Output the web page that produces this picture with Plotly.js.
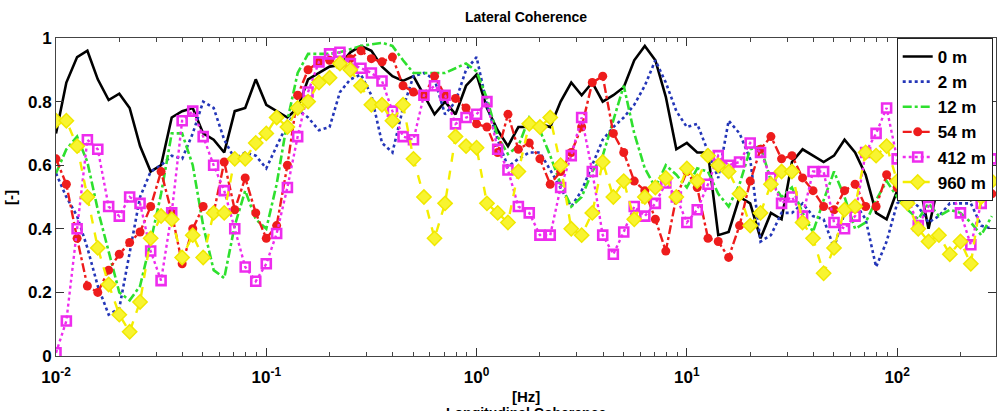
<!DOCTYPE html>
<html><head><meta charset="utf-8">
<script src="https://cdn.plot.ly/plotly-3.0.1.min.js"></script>
<style>html,body{margin:0;padding:0;background:#fff}#chart{width:1000px;height:411px}</style>
</head><body><div id="chart"></div>
<script>
var freq = [0.01,0.0112,0.0126,0.0141,0.0158,0.0178,0.02,0.0224,0.0251,0.0282,0.0316,0.0355,0.0398,0.0447,0.0501,0.0562,0.0631,0.0708,0.0794,0.0891,
0.1,0.112,0.126,0.141,0.158,0.178,0.2,0.224,0.251,0.282,0.316,0.355,0.398,0.447,0.501,0.562,0.631,0.708,0.794,0.891,
1,1.12,1.26,1.41,1.58,1.78,2,2.24,2.51,2.82,3.16,3.55,3.98,4.47,5.01,5.62,6.31,7.08,7.94,8.91,
10,11.2,12.6,14.1,15.8,17.8,20,22.4,25.1,28.2,31.6,35.5,39.8,44.7,50.1,56.2,63.1,70.8,79.4,89.1,
100,112,126,141,158,178,200,224,251,282];

var seriesNames = ["0 m","2 m","12 m","54 m","412 m","960 m"];

var coh_0m = [0.70,0.86,0.94,0.96,0.87,0.805,0.825,0.78,0.66,0.58,0.60,0.75,0.77,0.78,0.70,0.68,0.64,0.77,0.78,0.87,
0.79,0.77,0.75,0.78,0.87,0.89,0.91,0.915,0.955,0.975,0.96,0.91,0.88,0.865,0.88,0.82,0.76,0.80,0.76,0.85,
0.885,0.78,0.71,0.66,0.72,0.72,0.73,0.72,0.80,0.86,0.82,0.86,0.80,0.82,0.845,0.93,0.975,0.93,0.815,0.65,
0.67,0.64,0.64,0.38,0.39,0.50,0.48,0.37,0.45,0.43,0.61,0.65,0.63,0.61,0.63,0.68,0.64,0.57,0.45,0.43,
0.52,0.56,0.56,0.40,0.55,0.52,0.55,0.49,0.50,0.50];

var coh_2m = [0.575,0.50,0.44,0.34,0.22,0.13,0.15,0.33,0.50,0.58,0.60,0.63,0.62,0.70,0.80,0.78,0.68,0.62,0.64,0.63,
0.59,0.66,0.73,0.775,0.75,0.71,0.72,0.83,0.87,0.885,0.82,0.67,0.64,0.78,0.88,0.89,0.87,0.76,0.80,0.90,
0.94,0.79,0.68,0.595,0.62,0.64,0.64,0.585,0.53,0.47,0.52,0.60,0.68,0.72,0.75,0.79,0.85,0.93,0.86,0.77,
0.72,0.73,0.64,0.56,0.74,0.70,0.62,0.36,0.38,0.45,0.45,0.48,0.44,0.43,0.34,0.45,0.48,0.43,0.28,0.36,
0.48,0.50,0.47,0.42,0.44,0.48,0.48,0.48,0.41,0.40];

var coh_12m = [0.575,0.65,0.69,0.61,0.46,0.33,0.20,0.175,0.22,0.36,0.51,0.70,0.70,0.60,0.41,0.27,0.245,0.41,0.52,0.43,
0.40,0.54,0.74,0.89,0.95,0.95,0.95,0.955,0.965,0.975,0.98,0.985,0.975,0.93,0.89,0.89,0.89,0.89,0.905,0.92,
0.895,0.81,0.69,0.635,0.66,0.75,0.71,0.63,0.54,0.47,0.50,0.58,0.63,0.74,0.85,0.70,0.59,0.53,0.60,0.57,
0.53,0.59,0.58,0.51,0.47,0.54,0.65,0.66,0.55,0.50,0.53,0.45,0.39,0.49,0.58,0.50,0.40,0.42,0.49,0.55,
0.50,0.46,0.43,0.48,0.44,0.46,0.45,0.42,0.38,0.44];

var coh_54m = [0.62,0.54,0.37,0.22,0.20,0.27,0.32,0.357,0.39,0.47,0.58,0.45,0.29,0.40,0.47,0.45,0.61,0.46,0.56,0.45,
0.37,0.41,0.60,0.82,0.90,0.925,0.93,0.915,0.935,0.96,0.935,0.925,0.94,0.85,0.83,0.82,0.88,0.82,0.81,0.78,
0.73,0.72,0.64,0.76,0.65,0.67,0.62,0.54,0.58,0.64,0.72,0.86,0.88,0.70,0.64,0.55,0.52,0.43,0.33,0.50,
0.58,0.53,0.37,0.36,0.31,0.41,0.55,0.65,0.69,0.62,0.63,0.56,0.52,0.47,0.46,0.52,0.54,0.47,0.47,0.57,
0.53,0.50,0.52,0.52,0.55,0.55,0.53,0.51,0.53,0.51];

var coh_412m = [0.01,0.11,0.40,0.68,0.65,0.47,0.44,0.50,0.48,0.33,0.237,0.45,0.74,0.77,0.69,0.60,0.52,0.40,0.28,0.235,
0.29,0.385,0.53,0.69,0.83,0.925,0.95,0.955,0.92,0.905,0.89,0.865,0.77,0.69,0.68,0.82,0.85,0.82,0.73,0.75,
0.76,0.80,0.65,0.585,0.47,0.45,0.38,0.38,0.53,0.63,0.75,0.58,0.38,0.32,0.39,0.47,0.44,0.48,0.544,0.50,
0.42,0.46,0.54,0.63,0.60,0.61,0.67,0.64,0.56,0.48,0.50,0.44,0.58,0.58,0.42,0.40,0.44,0.64,0.70,0.78,
0.62,0.50,0.41,0.47,0.51,0.52,0.45,0.35,0.48,0.62];

var coh_960m = [0.74,0.74,0.66,0.50,0.34,0.225,0.13,0.076,0.17,0.37,0.44,0.43,0.31,0.38,0.31,0.45,0.45,0.62,0.62,0.67,
0.70,0.75,0.72,0.78,0.80,0.86,0.875,0.92,0.90,0.85,0.79,0.79,0.74,0.79,0.62,0.50,0.37,0.48,0.69,0.66,
0.655,0.48,0.45,0.42,0.58,0.73,0.72,0.75,0.60,0.40,0.38,0.45,0.61,0.50,0.55,0.43,0.50,0.53,0.56,0.50,
0.59,0.55,0.63,0.60,0.58,0.51,0.41,0.45,0.54,0.58,0.58,0.42,0.37,0.26,0.34,0.46,0.47,0.64,0.63,0.66,
0.55,0.48,0.40,0.36,0.38,0.32,0.36,0.29,0.50,0.55];

var xTickVals = [0.01,0.1,1,10,100];
var xTickText = ["10<sup>-2</sup>","10<sup>-1</sup>","10<sup>0</sup>","10<sup>1</sup>","10<sup>2</sup>"];
var yTickVals = [0,0.2,0.4,0.6,0.8,1];
var yTickText = ["0","0.2","0.4","0.6","0.8","1"];

var FONT = "Liberation Sans, Arial, sans-serif";
var ys = [coh_0m,coh_2m,coh_12m,coh_54m,coh_412m,coh_960m];
var styles = [
  {mode:"lines", line:{color:"#000000", width:2.6, dash:"solid"}},
  {mode:"lines", line:{color:"#2436b8", width:2.6, dash:"dot"}},
  {mode:"lines", line:{color:"#2ee02e", width:2.6, dash:"dashdot"}},
  {mode:"lines+markers", line:{color:"#ee1c1c", width:2.4, dash:"dashdot"}, marker:{symbol:"circle", size:9, color:"#ee1c1c"}},
  {mode:"lines+markers", line:{color:"#ee2cee", width:2.4, dash:"dot"}, marker:{symbol:"square-open", size:9, color:"#ee2cee", line:{width:2.6, color:"#ee2cee"}}},
  {mode:"lines+markers", line:{color:"#f4ee00", width:2.4, dash:"dash"}, marker:{symbol:"diamond", size:11, color:"#f8f430", line:{width:1.5, color:"#f0e800"}}}
];
var traces = ys.map(function(y,i){
  var t = {x:freq, y:y, name:seriesNames[i], type:"scatter"};
  for (var k in styles[i]) t[k] = styles[i][k];
  return t;
});

var layout = {
  width:1000, height:411,
  margin:{l:56, r:4, t:38, b:55},
  paper_bgcolor:"#fff", plot_bgcolor:"#fff",
  showlegend:true,
  font:{family:FONT, size:16, color:"#000"},
  title:{text:"<b>Lateral Coherence</b>", font:{family:FONT, size:14, color:"#000"}, x:0.526, xanchor:"center", y:0.958, yanchor:"middle"},
  xaxis:{type:"log", range:[-2, 2.47], tickvals:xTickVals, ticktext:xTickText,
    ticks:"inside", ticklen:8, tickcolor:"#333", showline:true, linecolor:"#444", linewidth:1, mirror:"ticks",
    ticklabelstandoff:6,
    showgrid:false, zeroline:false, tickfont:{family:FONT, size:17, color:"#000", weight:"bold"},
    minor:{ticks:"inside", ticklen:4, tickcolor:"#444", showgrid:false, dtick:"D1"}},
  yaxis:{range:[0,1], tickvals:yTickVals, ticktext:yTickText,
    ticks:"inside", ticklen:8, tickcolor:"#333", showline:true, linecolor:"#444", linewidth:1, mirror:"ticks",
    showgrid:false, zeroline:false, tickfont:{family:FONT, size:17, color:"#000", weight:"bold"}},
  legend:{x:0.9965, xanchor:"right", y:1, yanchor:"top", bgcolor:"#fff", bordercolor:"#222", borderwidth:1,
    font:{family:FONT, size:17, color:"#000", weight:"bold"}, tracegroupgap:0},
  annotations:[
    {text:"<b>[Hz]</b>", xref:"paper", yref:"paper", x:0.5, y:-0.126, yanchor:"middle", showarrow:false, font:{family:FONT, size:15, color:"#000"}},
    {text:"<b>[-]</b>", xref:"paper", yref:"paper", x:-0.049, y:0.5, textangle:-90, xanchor:"center", showarrow:false, font:{family:FONT, size:15, color:"#000"}},
    {text:"<b>Longitudinal Coherence</b>", xref:"paper", yref:"paper", x:0.5, y:-0.148, yanchor:"top", showarrow:false, font:{family:FONT, size:14, color:"#000"}}
  ]
};
Plotly.newPlot("chart", traces, layout, {displayModeBar:false, staticPlot:true});
</script>
</body></html>
